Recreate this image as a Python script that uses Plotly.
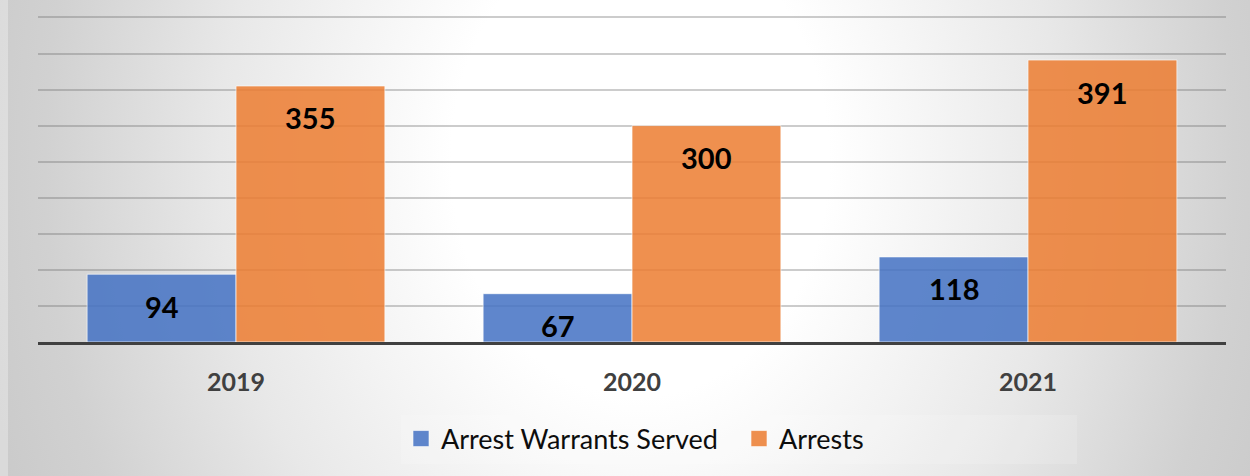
import base64
import plotly.graph_objects as go

# ---- data ----
years = ["2019", "2020", "2021"]
warrants = [94, 67, 118]
arrests = [355, 300, 391]
series_names = ["Arrest Warrants Served", "Arrests"]
colors = ["#4472C4", "#ED7D31"]

W, H = 1250, 476
ML, MR, MT, MB = 38, 24, 16, 134
PW, PH = W - ML - MR, H - MT - MB
BARGAP = 0.248
YMAX = 452

# background radial gradient as svg image
svg = f'''<svg xmlns="http://www.w3.org/2000/svg" width="{W}" height="{H}" viewBox="0 0 {W} {H}">
<defs><radialGradient id="g" gradientUnits="userSpaceOnUse" cx="640" cy="160" r="700"
 gradientTransform="translate(640 160) scale(1 1.25) translate(-640 -160)">
<stop offset="0" stop-color="#ffffff"/><stop offset="0.27" stop-color="#ffffff"/>
<stop offset="0.6" stop-color="#e8e8e8"/><stop offset="0.85" stop-color="#d1d1d1"/>
<stop offset="1" stop-color="#c9c9c9"/></radialGradient></defs>
<rect width="{W}" height="{H}" fill="url(#g)"/>
<rect x="0" y="0" width="8" height="{H}" fill="#ffffff" fill-opacity="0.3"/>
</svg>'''
src = "data:image/svg+xml;base64," + base64.b64encode(svg.encode()).decode()

fig = go.Figure()
for name, vals, col in zip(series_names, [warrants, arrests], colors):
    fig.add_trace(go.Bar(
        x=years, y=vals, name=name, showlegend=False,
        marker=dict(color=col, opacity=0.85,
                    line=dict(color="rgba(255,255,255,0.7)", width=1)),
    ))
    # legend proxy
    fig.add_trace(go.Scatter(
        x=[None], y=[None], mode="markers", name=name,
        marker=dict(symbol="square", size=16, color=col, opacity=0.85,
                    line=dict(color="rgba(255,255,255,0.6)", width=1)),
    ))

# data labels inside end (x given as category index)
slot_px = PW / len(years)
bar_px = slot_px * (1 - BARGAP) / 2
annotations = []
for i, vals in enumerate([warrants, arrests]):
    shift = (i - 0.5) * bar_px
    for idx, v in enumerate(vals):
        annotations.append(dict(
            x=idx, y=v, xref="x", yref="y", text=str(v), showarrow=False,
            xshift=shift, yshift=-32, yanchor="middle",
            font=dict(family="Lato", size=29, color="#000000", weight="bold"),
        ))

fig.update_layout(
    width=W, height=H,
    margin=dict(l=ML, r=MR, t=MT, b=MB),
    paper_bgcolor="rgba(0,0,0,0)", plot_bgcolor="rgba(0,0,0,0)",
    barmode="group", bargap=BARGAP, bargroupgap=0,
    font=dict(family="Lato"),
    images=[dict(source=src, xref="paper", yref="paper",
                 x=-ML / PW, y=1 + MT / PH, sizex=W / PW, sizey=H / PH,
                 xanchor="left", yanchor="top", sizing="stretch", layer="below")],
    xaxis=dict(type="category", categoryorder="array", categoryarray=years,
               range=[-0.5, len(years) - 0.5],
               showline=True, linecolor="#404040", linewidth=3,
               showgrid=False, ticks="", ticklabelstandoff=16,
               tickfont=dict(family="Lato", size=25, color="#404040", weight="bold")),
    yaxis=dict(range=[0, YMAX], dtick=50, showgrid=True,
               gridcolor="rgba(110,110,110,0.35)", gridwidth=2,
               zeroline=False, showticklabels=False),
    legend=dict(orientation="h", x=(401 - ML) / PW, xanchor="left",
                y=(MT + PH - 439) / PH, yanchor="middle",
                bgcolor="rgba(255,255,255,0.15)",
                entrywidth=293, entrywidthmode="pixels",
                font=dict(family="Lato", size=27, color="#0d0d0d")),
    annotations=annotations,
    showlegend=True,
)

fig.write_html("out.html", config={"displayModeBar": False},
               post_script="document.body.style.margin='0';")
